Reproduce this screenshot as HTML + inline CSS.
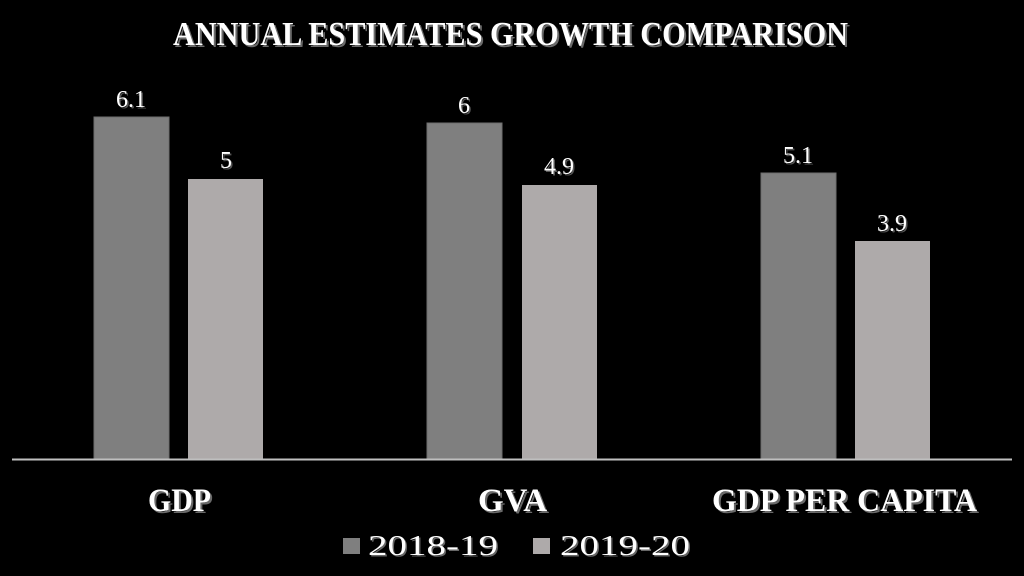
<!DOCTYPE html>
<html>
<head>
<meta charset="utf-8">
<style>
  html,body{margin:0;padding:0;background:#000;}
  svg{display:block;}
  text{font-family:"Liberation Serif", serif;}
</style>
</head>
<body>
<svg width="1024" height="576" viewBox="0 0 1024 576" xmlns="http://www.w3.org/2000/svg">
  <rect width="1024" height="576" fill="#000"/>

  <!-- Title -->
  <text x="175" y="47" font-size="34" font-weight="bold" fill="#6a6a6a" textLength="675" lengthAdjust="spacingAndGlyphs">ANNUAL ESTIMATES GROWTH COMPARISON</text>
  <text x="173" y="45" font-size="34" font-weight="bold" fill="#fff" textLength="675" lengthAdjust="spacingAndGlyphs">ANNUAL ESTIMATES GROWTH COMPARISON</text>

  <!-- Bars -->
  <rect x="94" y="117" width="75" height="342" fill="#7f7f7f" stroke="#6e6e6e" stroke-width="1"/>
  <rect x="188" y="179" width="75" height="280" fill="#aeaaaa"/>
  <rect x="427" y="123" width="75" height="336" fill="#7f7f7f" stroke="#6e6e6e" stroke-width="1"/>
  <rect x="522" y="185" width="75" height="274" fill="#aeaaaa"/>
  <rect x="761" y="173" width="75" height="286" fill="#7f7f7f" stroke="#6e6e6e" stroke-width="1"/>
  <rect x="855" y="241" width="75" height="218" fill="#aeaaaa"/>

  <!-- Axis -->
  <line x1="12" y1="459.5" x2="1012" y2="459.5" stroke="#bfbfbf" stroke-width="2"/>

  <!-- Data labels -->
  <g font-size="24" text-anchor="middle">
    <g fill="#555" transform="translate(1.5,1.5)">
      <text x="131" y="107">6.1</text>
      <text x="226" y="168">5</text>
      <text x="464" y="113">6</text>
      <text x="559" y="174">4.9</text>
      <text x="798" y="163">5.1</text>
      <text x="892" y="231">3.9</text>
    </g>
    <g fill="#fff">
      <text x="131" y="107">6.1</text>
      <text x="226" y="168">5</text>
      <text x="464" y="113">6</text>
      <text x="559" y="174">4.9</text>
      <text x="798" y="163">5.1</text>
      <text x="892" y="231">3.9</text>
    </g>
  </g>

  <!-- Category labels -->
  <g font-size="33" font-weight="bold">
    <g fill="#6a6a6a" transform="translate(2,2)">
      <text x="148" y="511" textLength="63" lengthAdjust="spacingAndGlyphs">GDP</text>
      <text x="478" y="511" textLength="69" lengthAdjust="spacingAndGlyphs">GVA</text>
      <text x="712" y="511" textLength="265" lengthAdjust="spacingAndGlyphs">GDP PER CAPITA</text>
    </g>
    <g fill="#fff">
      <text x="148" y="511" textLength="63" lengthAdjust="spacingAndGlyphs">GDP</text>
      <text x="478" y="511" textLength="69" lengthAdjust="spacingAndGlyphs">GVA</text>
      <text x="712" y="511" textLength="265" lengthAdjust="spacingAndGlyphs">GDP PER CAPITA</text>
    </g>
  </g>

  <!-- Legend -->
  <rect x="343" y="538" width="17" height="16" fill="#7f7f7f"/>
  <rect x="533" y="538" width="17" height="16" fill="#aeaaaa"/>
  <g font-size="28">
    <g fill="#666" transform="translate(1.5,1.5)">
      <text x="368" y="555" textLength="130" lengthAdjust="spacingAndGlyphs">2018-19</text>
      <text x="560" y="555" textLength="130" lengthAdjust="spacingAndGlyphs">2019-20</text>
    </g>
    <g fill="#fff">
      <text x="368" y="555" textLength="130" lengthAdjust="spacingAndGlyphs">2018-19</text>
      <text x="560" y="555" textLength="130" lengthAdjust="spacingAndGlyphs">2019-20</text>
    </g>
  </g>
</svg>
</body>
</html>
